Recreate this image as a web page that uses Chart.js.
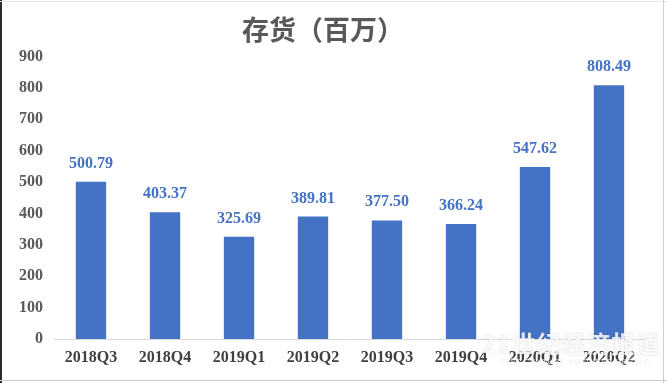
<!DOCTYPE html>
<html>
<head>
<meta charset="utf-8">
<script src="https://cdn.jsdelivr.net/npm/chart.js@4/dist/chart.umd.min.js"></script>
<style>
  html, body { margin: 0; padding: 0; background: #fff; }
  #wrap { position: relative; width: 667px; height: 383px; overflow: hidden; }
  canvas { position: absolute; left: 0; top: 0; }
  .ln { position: absolute; }
  #wm { position: absolute; left: 481px; top: 325px; color: rgba(255,255,255,0.85);
        font: bold 24px "Noto Sans CJK SC", sans-serif; letter-spacing: 1px; white-space: nowrap;
        text-shadow: 0 0 2px rgba(0,0,0,0.18); }
  #wm2 { position: absolute; left: 500px; top: 357px; color: rgba(255,255,255,0.85);
        font: 8px "Liberation Sans", sans-serif; white-space: nowrap; letter-spacing: 0.5px;
        text-shadow: 0 0 1px rgba(0,0,0,0.15); }
</style>
</head>
<body>
<div id="wrap">
  <canvas id="c" width="667" height="383"></canvas>
  <div class="ln" style="left:0;top:0;width:2px;height:383px;background:#2b2b2b"></div>
  <div class="ln" style="left:0;top:1px;width:667px;height:1px;background:#e6e6e6"></div>
  <div class="ln" style="left:663px;top:0;width:1px;height:383px;background:#cfcfcf"></div>
  <div class="ln" style="left:0;top:380px;width:667px;height:1px;background:#cfcfcf"></div>
  <div id="wm">21世纪经济报道</div>
  <div id="wm2">21ST CENTURY BUSINESS HERALD</div>
</div>
<script>
const categories = ['2018Q3','2018Q4','2019Q1','2019Q2','2019Q3','2019Q4','2020Q1','2020Q2'];
const inventory = [500.79, 403.37, 325.69, 389.81, 377.50, 366.24, 547.62, 808.49];
const yTicks = [0,100,200,300,400,500,600,700,800,900];
const titleText = '存货（百万）';

const serif = '"Liberation Serif", "Times New Roman", serif';

const valueLabels = {
  id: 'valueLabels',
  afterDatasetsDraw(chart) {
    const ctx = chart.ctx;
    const meta = chart.getDatasetMeta(0);
    ctx.save();
    ctx.font = 'bold 16px ' + serif;
    ctx.fillStyle = '#4472C4';
    ctx.textAlign = 'center';
    ctx.textBaseline = 'alphabetic';
    meta.data.forEach((bar, i) => {
      ctx.fillText(inventory[i].toFixed(2), bar.x, bar.y - 14);
    });
    ctx.restore();
  }
};

new Chart(document.getElementById('c'), {
  type: 'bar',
  data: {
    labels: categories,
    datasets: [{
      data: inventory,
      backgroundColor: '#4472C4',
      borderWidth: 0,
      categoryPercentage: 1,
      barPercentage: 0.41
    }]
  },
  options: {
    responsive: false,
    animation: false,
    devicePixelRatio: 1,
    layout: { padding: { left: 0, right: 21, top: 0, bottom: 0 } },
    plugins: {
      legend: { display: false },
      tooltip: { enabled: false },
      title: {
        display: true,
        text: titleText,
        color: '#595959',
        font: { family: '"Noto Sans CJK SC", sans-serif', size: 27, weight: 'bold', lineHeight: 1.2 },
        padding: { top: 14, bottom: 10 }
      }
    },
    scales: {
      x: {
        grid: { display: false, drawTicks: false },
        border: { display: true, color: '#d9d9d9', width: 1 },
        ticks: { color: '#404040', font: { family: serif, size: 16, weight: 'bold' }, padding: 9, maxRotation: 0 },
        afterFit(s) { s.height = 44; }
      },
      y: {
        min: 0, max: 900,
        afterBuildTicks(s) { s.ticks = yTicks.map(v => ({ value: v })); },
        grid: { display: false, drawTicks: false },
        border: { display: false },
        ticks: { color: '#595959', font: { family: serif, size: 16, weight: 'bold' }, padding: 11 },
        afterFit(s) { s.width = 54; }
      }
    }
  },
  plugins: [valueLabels]
});
</script>
</body>
</html>
